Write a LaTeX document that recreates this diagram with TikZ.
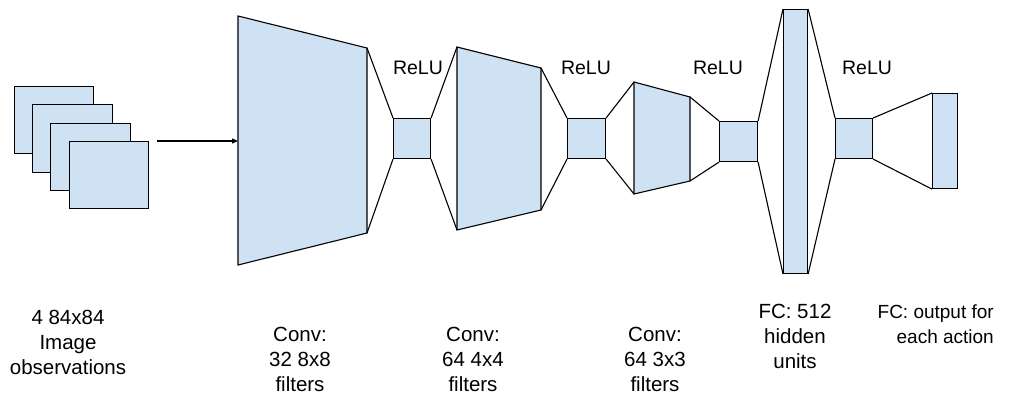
\documentclass[tikz,border=0pt]{standalone}
\usepackage{fontspec}
\setmainfont{Liberation Sans}
\usetikzlibrary{arrows.meta}
\definecolor{lb}{HTML}{CFE2F3}
\tikzset{
  layer/.style={draw=black, fill=lb, line width=1.1pt, line join=miter},
  boxnode/.style={layer, inner sep=0pt, anchor=north west},
  conn/.style={draw=black, line width=1.1pt},
  lbl/.style={font=\fontsize{20.5}{25}\selectfont, align=center, inner sep=0pt, anchor=base},
  relu/.style={font=\fontsize{19.5}{24}\selectfont, inner sep=0pt, anchor=base},
}
\begin{document}
\begin{tikzpicture}[x=1pt,y=-1pt]
\useasboundingbox (0,0) rectangle (1013,394);
% input stack
\node[boxnode, minimum width=79pt, minimum height=67pt] (r1) at (14,86) {};
\node[boxnode, minimum width=80pt, minimum height=68pt] (r2) at (32,104) {};
\node[boxnode, minimum width=80pt, minimum height=67pt] (r3) at (50,123) {};
\node[boxnode, minimum width=79pt, minimum height=67pt] (r4) at (69,141) {};
% conv 1
\coordinate (t1tl) at (238,16);
\coordinate (t1bl) at (238,265);
\coordinate (t1tr) at (367,48);
\coordinate (t1br) at (367,233);
\draw[layer] (t1tl) -- (t1tr) -- (t1br) -- (t1bl) -- cycle;
\coordinate (a0) at (157,141);
\coordinate (a1) at (238,141);
\draw[conn, -{Triangle[length=6pt,width=5pt]}] (a0) -- (a1);
\node[boxnode, minimum width=37pt, minimum height=40pt] (b1) at (393,118) {};
% conv 2
\coordinate (t2tl) at (457,47);
\coordinate (t2bl) at (457,230);
\coordinate (t2tr) at (541,68);
\coordinate (t2br) at (541,210);
\draw[layer] (t2tl) -- (t2tr) -- (t2br) -- (t2bl) -- cycle;
\node[boxnode, minimum width=38pt, minimum height=40pt] (b2) at (567,118) {};
% conv 3
\coordinate (t3tl) at (634,82);
\coordinate (t3bl) at (634,194);
\coordinate (t3tr) at (690,97);
\coordinate (t3br) at (690,181);
\draw[layer] (t3tl) -- (t3tr) -- (t3br) -- (t3bl) -- cycle;
\node[boxnode, minimum width=38pt, minimum height=40pt] (b3) at (719,121) {};
% fc 512
\node[boxnode, minimum width=24pt, minimum height=264pt] (fc) at (783,9) {};
\node[boxnode, minimum width=37pt, minimum height=40pt] (b4) at (835,118) {};
% output
\node[boxnode, minimum width=25pt, minimum height=95pt] (out) at (932,93) {};
% connectors
\draw[conn] (t1tr) -- (b1.north west);
\draw[conn] (t1br) -- (b1.south west);
\draw[conn] (b1.north east) -- (t2tl);
\draw[conn] (b1.south east) -- (t2bl);
\draw[conn] (t2tr) -- (b2.north west);
\draw[conn] (t2br) -- (b2.south west);
\draw[conn] (b2.north east) -- (t3tl);
\draw[conn] (b2.south east) -- (t3bl);
\draw[conn] (t3tr) -- (b3.north west);
\draw[conn] (t3br) -- (b3.south west);
\draw[conn] (b3.north east) -- (fc.north west);
\draw[conn] (b3.south east) -- (fc.south west);
\draw[conn] (fc.north east) -- (b4.north west);
\draw[conn] (fc.south east) -- (b4.south west);
\draw[conn] (b4.north east) -- (out.north west);
\draw[conn] (b4.south east) -- (out.south west);
% ReLU labels
\node[relu] (relu1) at (418,74) {ReLU};
\node[relu] (relu2) at (586,74) {ReLU};
\node[relu] (relu3) at (718,74) {ReLU};
\node[relu] (relu4) at (867,74) {ReLU};
% bottom labels (anchor = baseline of last line)
\node[lbl] (l0) at (68,374) {4 84x84\\Image\\observations};
\node[lbl] (l1) at (300,391) {Conv:\\32 8x8\\filters};
\node[lbl] (l2) at (473,391) {Conv:\\64 4x4\\filters};
\node[lbl] (l3) at (655,391) {Conv:\\64 3x3\\filters};
\node[lbl] (l4) at (795,368) {FC: 512\\hidden\\units};
\node[lbl, font=\fontsize{19}{25}\selectfont, align=right, anchor=base east] (l5) at (994,343) {FC: output for\\each action};
\end{tikzpicture}
\end{document}
